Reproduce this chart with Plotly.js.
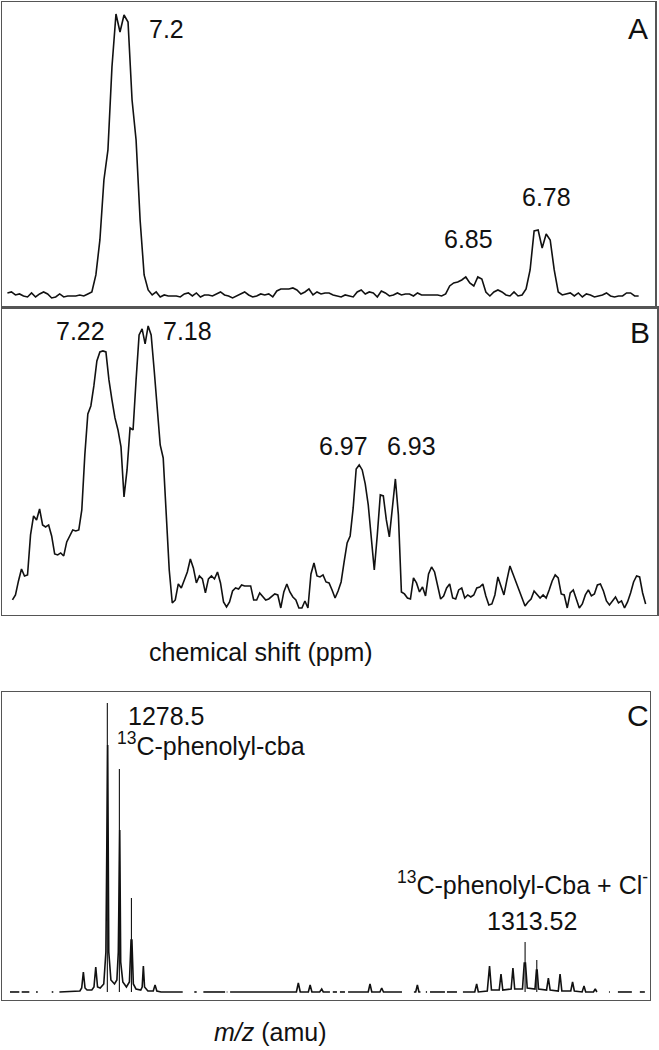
<!DOCTYPE html>
<html>
<head>
<meta charset="utf-8">
<script src="https://cdn.plot.ly/plotly-3.0.1.min.js"></script>
<style>
  html, body { margin: 0; padding: 0; background: #fff; }
  #chart { width: 659px; height: 1050px; }
</style>
</head>
<body>
<div id="chart"></div>
<script>
// ---- panel A : 1H spectrum, sampled every 0.004 ppm from 7.312 ppm ----
var specA_start = 7.312
var specA_step = -0.004
var specA = [
  4, 5, 2, 3, 1, 0, 4, 0, 3, 5,
  3, -1, 0, 3, 0, 1, 1, 1, 2, 1,
  3, 5, 22, 57, 117, 147, 230, 283, 265, 282,
  275, 197, 157, 77, 22, 7, 2, 5, 0, 2,
  1, 1, 1, 0, 3, 4, 1, 4, 0, 2,
  2, 1, 3, 5, 2, 1, -1, 1, 3, 5,
  2, 0, 1, 3, 2, 3, 0, 6, 8, 8,
  8, 9, 7, 3, 5, 8, 2, 5, 3, 4,
  4, 2, 1, 0, 2, 1, 0, 5, 7, 3,
  5, 4, 0, 6, 4, 1, 2, 4, 2, 3,
  3, 1, 4, 2, 2, 2, 2, 2, 1, 3,
  11, 14, 15, 17, 20, 14, 11, 20, 18, 5,
  1, 5, 7, 5, 2, 1, 5, 1, 2, 8,
  27, 66, 67, 49, 63, 57, 27, 5, 2, 3,
  4, 1, 4, 0, 3, 2, 0, 1, 2, 4,
  1, 0, 1, 1, 4, 4, 1, 1
]

// ---- panel B : 1H spectrum, sampled every 0.003 ppm from 7.307 ppm ----
var specB_start = 7.307
var specB_step = -0.003
var specB = [
  12, 17, 31, 43, 36, 37, 77, 96, 92, 103,
  87, 85, 87, 76, 58, 57, 59, 56, 70, 76,
  82, 81, 82, 102, 157, 198, 206, 226, 251, 260,
  261, 260, 232, 212, 194, 182, 165, 115, 142, 184,
  182, 232, 277, 283, 268, 286, 277, 242, 202, 167,
  154, 98, 42, 9, 12, 28, 24, 32, 40, 53,
  44, 29, 36, 33, 19, 33, 36, 33, 40, 29,
  10, 5, 10, 21, 24, 23, 27, 26, 26, 26,
  12, 12, 19, 15, 12, 13, 16, 18, 17, 4,
  20, 28, 20, 15, 12, 4, 4, 11, 4, 38,
  49, 36, 35, 37, 30, 29, 22, 14, 21, 30,
  50, 69, 76, 104, 143, 147, 142, 128, 107, 76,
  42, 77, 117, 116, 92, 75, 107, 133, 97, 20,
  18, 14, 13, 34, 29, 20, 25, 16, 38, 45,
  40, 26, 13, 16, 24, 28, 14, 13, 22, 24,
  14, 17, 15, 17, 24, 25, 28, 16, 7, 8,
  17, 35, 27, 17, 32, 46, 38, 30, 22, 12,
  6, 10, 13, 21, 17, 14, 17, 14, 22, 31,
  37, 34, 18, 17, 4, 19, 22, 12, 4, 8,
  17, 22, 16, 18, 27, 28, 21, 11, 7, 11,
  15, 9, 11, 4, 10, 19, 30, 36, 35, 19,
  8
]

// ---- panel C : mass spectrum profile (null = gap in the trace) ----
var msMz = [
  1270.34, 1271.12, null, 1271.32, 1271.96, null, 1272.52, 1272.67, null, 1273.84, 1273.97, null,
  1274.48, 1276.2, 1276.35, 1276.49, 1276.63, 1276.8,
  1277.2, 1277.38, 1277.53, 1277.68, 1277.9,
  1278.2, 1278.38, 1278.47, 1278.53, 1278.62, 1278.8,
  1279.1, 1279.3, 1279.42, 1279.49, 1279.54, 1279.62, 1279.8,
  1280.1, 1280.35, 1280.49, 1280.56, 1280.68, 1280.9,
  1281.3, 1281.42, 1281.52, 1281.62, 1281.9,
  1282.35, 1282.5, 1282.65, 1283.0, 1284.82, null,
  1285.79, 1285.99, null, 1286.55, 1288.37, null, 1288.51, 1288.56, null,
  1288.79, 1294.35, 1294.51, 1294.67, 1295.35, 1295.5, 1295.65, 1296.3, 1296.47, 1296.6, 1297.16, null,
  1297.4, 1297.75, null, 1298.0, 1298.42, null,
  1298.68, 1300.37, 1300.52, 1300.67, 1301.35, 1301.5, 1301.65, 1303.2, null,
  1304.2, 1304.35, 1304.49, 1304.62, 1304.75, null, 1305.2, 1305.3, null,
  1305.55, 1306.8, null, 1306.97, 1307.81, null,
  1308.31, 1309.3, 1309.46, 1309.6,
  1310.35, 1310.54, 1310.7,
  1311.35, 1311.5, 1311.65,
  1312.35, 1312.5, 1312.65,
  1313.3, 1313.45, 1313.55, 1313.7,
  1314.35, 1314.47, 1314.53, 1314.65,
  1315.32, 1315.47, 1315.62,
  1316.3, 1316.45, 1316.6,
  1317.35, 1317.5, 1317.65,
  1318.3, 1318.46, 1318.6,
  1319.25, 1319.4, 1319.54, null,
  1320.55, 1320.63, null, 1321.3, 1322.47, null, 1323.14, 1323.56
]
var msInt = [
  0, 0, null, 0, 0, null, 0, 0, null, 0, 0, null,
  0, 1, 4, 20, 4, 2,
  2, 5, 25, 5, 4,
  8, 40, 247, 247, 40, 12,
  8, 12, 40, 162, 162, 30, 10,
  5, 10, 52, 52, 8, 3,
  2, 5, 26, 5, 1,
  1, 7, 1, 0, 0, null,
  0, 0, null, 0, 0, null, 0, 0, null,
  0, 0, 9, 0, 0, 7, 0, 0, 3, 0, 0, null,
  0, 0, null, 0, 0, null,
  0, 0, 8, 0, 0, 4, 0, 0, null,
  0, 0, 7, 0, 0, null, 0, 0, null,
  0, 0, null, 0, 0, null,
  0, 0, 8, 0,
  1, 26, 2,
  2, 18, 2,
  3, 24, 3,
  3, 29, 29, 4,
  3, 22, 22, 3,
  2, 14, 2,
  1, 18, 1,
  1, 10, 1,
  0, 6, 0,
  0, 3, 0, null,
  0, 0, null, 0, 0, null, 0, 0
]
// centroid sticks drawn over the profile
var stickMz = [1278.5, 1279.51, 1280.52, 1313.52, 1314.5]
var stickInt = [289, 223, 94, 50, 32]

var stickX = [], stickY = []
stickMz.forEach(function (m, i) {
  stickX.push(m, m, null)
  stickY.push(0, stickInt[i], null)
})

// page geometry
var W = 659, H = 1050
var ML = 2, MR = 2, MT = 2, MB = 2
var PW = W - ML - MR, PH = H - MT - MB
function px(x, y) {
  return {x: (x - ML) / PW, y: (H - MB - y) / PH}
}

var font = 'Liberation Sans, Arial, Helvetica, sans-serif'
var ink = '#111'

var traces = [
  {x0: specA_start, dx: specA_step, y: specA, type: 'scatter', mode: 'lines',
   line: {color: ink, width: 1.6}, xaxis: 'x', yaxis: 'y', hoverinfo: 'skip'},
  {x0: specB_start, dx: specB_step, y: specB, type: 'scatter', mode: 'lines',
   line: {color: ink, width: 1.6}, xaxis: 'x2', yaxis: 'y2', hoverinfo: 'skip'},
  {x: msMz, y: msInt, type: 'scatter', mode: 'lines', connectgaps: false,
   line: {color: ink, width: 1.6}, xaxis: 'x3', yaxis: 'y3', hoverinfo: 'skip'},
  {x: stickX, y: stickY, type: 'scatter', mode: 'lines', connectgaps: false,
   line: {color: ink, width: 1.1}, xaxis: 'x3', yaxis: 'y3', hoverinfo: 'skip'}
]

function frame(extra) {
  var a = {showline: true, mirror: true, linecolor: '#555', linewidth: 1.5,
    showgrid: false, zeroline: false, ticks: '', showticklabels: false, fixedrange: true}
  for (var k in extra) a[k] = extra[k]
  return a
}

function label(text, x, y, size, opts) {
  var p = px(x, y)
  var a = {text: text, x: p.x, y: p.y, xref: 'paper', yref: 'paper', showarrow: false,
    xanchor: 'center', yanchor: 'middle', font: {family: font, size: size, color: ink}}
  for (var k in opts) a[k] = opts[k]
  return a
}

var layout = {
  width: W, height: H,
  margin: {l: ML, r: MR, t: MT, b: MB},
  paper_bgcolor: '#fff', plot_bgcolor: '#fff',
  showlegend: false,
  xaxis: frame({domain: [0, 0.997], range: [7.3174, 6.6677], anchor: 'y'}),
  yaxis: frame({domain: [0.7075, 1], range: [-11, 295], anchor: 'x'}),
  xaxis2: frame({domain: [0, 1], range: [7.3174, 6.6657], anchor: 'y2'}),
  yaxis2: frame({domain: [0.414, 0.7075], range: [-3, 304], anchor: 'x2'}),
  xaxis3: frame({domain: [0, 0.9893], range: [1269.67, 1323.99], anchor: 'y3'}),
  yaxis3: frame({domain: [0.0459, 0.3403], range: [-8, 300], anchor: 'x3'}),
  annotations: [
    label('7.2', 167, 29, 25),
    label('6.85', 468, 239, 25),
    label('6.78', 546, 197, 25),
    label('A', 638, 28, 30),
    label('7.22', 80, 331, 25),
    label('7.18', 187, 331, 25),
    label('6.97', 343, 446, 25),
    label('6.93', 411, 446, 25),
    label('B', 640, 332, 30),
    label('chemical shift (ppm)', 261, 652, 25),
    label('1278.5', 126, 716, 25, {xanchor: 'left'}),
    label('<sup>13</sup>C-phenolyl-cba', 115, 744, 25, {xanchor: 'left'}),
    label('C', 638, 716, 30),
    label('<sup>13</sup>C-phenolyl-Cba + Cl<sup>-</sup>', 650, 883, 25, {xanchor: 'right'}),
    label('1313.52', 532, 921, 25),
    label('<i>m/z</i> (amu)', 270, 1032, 25)
  ]
}

Plotly.newPlot('chart', traces, layout, {staticPlot: true, displayModeBar: false})
</script>
</body>
</html>
